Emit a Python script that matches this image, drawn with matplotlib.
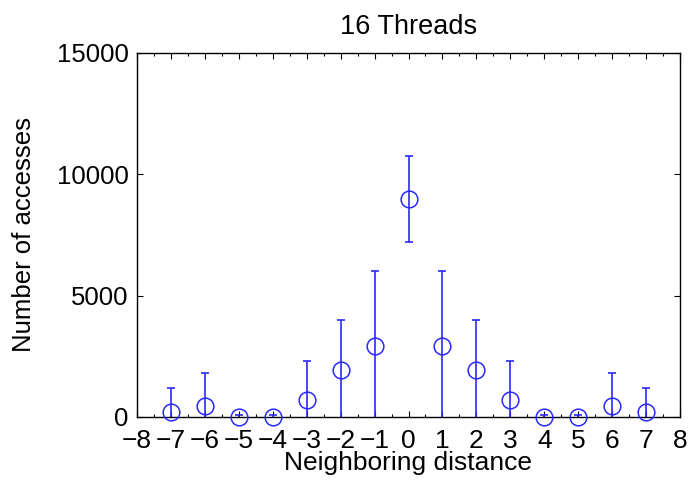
import matplotlib
matplotlib.use("Agg")
import matplotlib.pyplot as plt
from matplotlib.ticker import MultipleLocator

# neighbouring distance vs number of accesses (mean +/- error)
distance = [-7, -6, -5, -4, -3, -2, -1, 0, 1, 2, 3, 4, 5, 6, 7]
accesses = [190, 470, 0, 0, 700, 1940, 2940, 8970, 2940, 1950, 700, 0, 0, 470, 190]
errors = [990, 1330, 80, 80, 1610, 2050, 3080, 1770, 3080, 2040, 1610, 80, 80, 1330, 990]

x_ticks = list(range(-8, 9))
y_ticks = [0, 5000, 10000, 15000]

blue = "#2a2aff"

plt.rcParams["font.family"] = ["Liberation Sans", "DejaVu Sans"]
plt.rcParams["font.size"] = 19

fig = plt.figure(figsize=(6.96, 4.82), dpi=100)
ax = fig.add_axes([137 / 696, 1 - 417 / 482, (680 - 137) / 696, (417 - 53) / 482])

# error bars are clipped at the axes, markers are not (MATLAB style)
ax.errorbar(distance, accesses, yerr=errors, fmt="none", ecolor=blue,
            elinewidth=1.2, capsize=3, capthick=1.2)
ax.plot(distance, accesses, linestyle="none", marker="o", markersize=12,
        markerfacecolor="none", markeredgecolor=blue, markeredgewidth=1.1,
        clip_on=False, zorder=5)

ax.set_xlim(-8, 8)
ax.set_ylim(0, 15000)
ax.set_xticks(x_ticks)
ax.set_xticklabels([str(v).replace("-", "\u2212") for v in x_ticks])
ax.xaxis.set_minor_locator(MultipleLocator(0.5))
ax.set_yticks(y_ticks)

ax.tick_params(which="both", direction="in", top=True, right=True, width=0.8)
ax.tick_params(which="major", length=4)
ax.tick_params(which="minor", length=2.5)
ax.tick_params(axis="x", pad=8.5)
ax.tick_params(axis="y", pad=6, labelsize=18.5)
for s in ax.spines.values():
    s.set_linewidth(1.0)

ax.set_title("16 Threads", fontsize=19.5, pad=14)
ax.set_xlabel("Neighboring distance", fontsize=19, labelpad=-1)
ax.set_ylabel("Number of accesses", fontsize=18.5, labelpad=15)

fig.savefig("out.png", dpi=100)
